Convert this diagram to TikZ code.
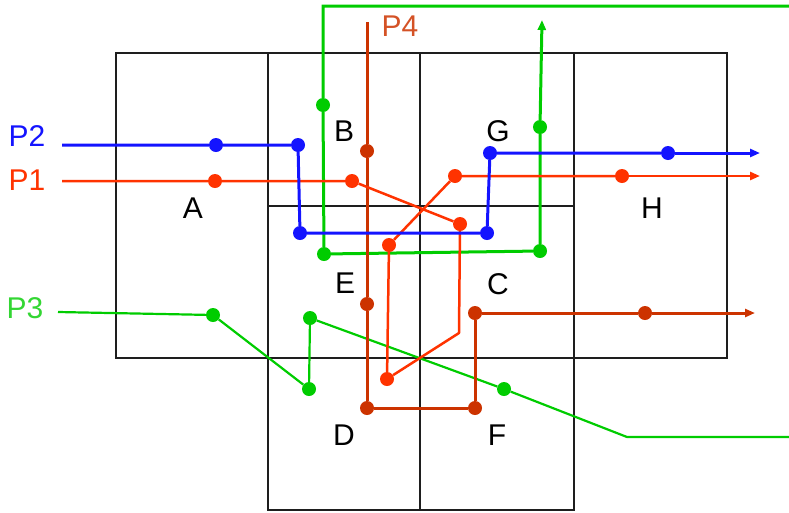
\documentclass[tikz,border=0pt]{standalone}
\usepackage{fontspec}
\setmainfont{Liberation Sans}
\usetikzlibrary{arrows.meta}
\definecolor{pblue}{RGB}{20,20,255}
\definecolor{pred}{RGB}{255,51,0}
\definecolor{pdark}{RGB}{204,51,0}
\definecolor{pgreen}{RGB}{0,204,0}
\definecolor{gridc}{RGB}{30,30,30}
\begin{document}
\begin{tikzpicture}[x=1pt,y=-1pt,
  cell/.style={draw=gridc,line width=1.5pt},
  lbl/.style={inner sep=0pt,font=\fontsize{30}{30}\selectfont},
  dot/.style={circle,fill=#1,inner sep=0pt,minimum size=14pt},
  tipend/.style={-{Triangle[length=10pt,width=8pt]}},
  bluepath/.style={draw=pblue,line width=3pt},
  redpath/.style={draw=pred,line width=2.5pt,line join=round},
  darkpath/.style={draw=pdark,line width=3pt},
  greenpath/.style={draw=pgreen,line width=3pt},
  thingreen/.style={draw=pgreen,line width=2.2pt,line join=round},
]
\useasboundingbox (0,0) rectangle (789,512);
% grid
\draw[cell] (116,53) rectangle (268,358);
\draw[cell] (268,53) rectangle (420,206);
\draw[cell] (420,53) rectangle (574,206);
\draw[cell] (268,206) rectangle (420,358);
\draw[cell] (420,206) rectangle (574,358);
\draw[cell] (268,358) rectangle (420,510);
\draw[cell] (420,358) rectangle (574,510);
\draw[cell] (574,53) rectangle (727,358);
% cell labels
\node[lbl] (lA) at (193,208) {A};
\node[lbl] (lB) at (344,131) {B};
\node[lbl] (lG) at (498,131) {G};
\node[lbl] (lH) at (652,208) {H};
\node[lbl] (lE) at (345,283) {E};
\node[lbl] (lC) at (498,284) {C};
\node[lbl] (lD) at (344,435) {D};
\node[lbl] (lF) at (497,435) {F};
% path labels
\node[lbl,text=pblue] (lP2) at (27,136) {P2};
\node[lbl,text=pred] (lP1) at (27,180) {P1};
\node[lbl,text=pgreen!80!white] (lP3) at (25,308) {P3};
\node[lbl,text=pdark!85!white] (lP4) at (400,26) {P4};

% green thick path
\coordinate (g0) at (792,6);
\coordinate (g1) at (323,6);
\node[dot=pgreen] (g2) at (323,105) {};
\node[dot=pgreen] (g3) at (324,254) {};
\node[dot=pgreen] (g4) at (540,251) {};
\node[dot=pgreen] (g5) at (540,127) {};
\coordinate (g6) at (542,20);
\draw[greenpath] (g0) -- (g1) -- (g2) -- (g3) -- (g4) -- (g5);
\draw[greenpath,tipend] (g5) -- (g6);

% P3 thin green
\coordinate (t0) at (58,312);
\node[dot=pgreen] (t1) at (213,315) {};
\node[dot=pgreen] (t2) at (309,389) {};
\node[dot=pgreen] (t3) at (310,318) {};
\node[dot=pgreen] (t4) at (504,389) {};
\coordinate (t5) at (627,437);
\coordinate (t6) at (792,437);
\draw[thingreen] (t0) -- (t1) -- (t2) -- (t3) -- (t4) -- (t5) -- (t6);

% P4
\coordinate (p0) at (367,22);
\node[dot=pdark] (p1) at (367,151) {};
\node[dot=pdark] (p2) at (367,304) {};
\node[dot=pdark] (p3) at (367,408) {};
\node[dot=pdark] (p4) at (475,408) {};
\node[dot=pdark] (p5) at (475,313) {};
\node[dot=pdark] (p6) at (645,313) {};
\coordinate (p7) at (755,313);
\draw[darkpath] (p0) -- (p1) -- (p2) -- (p3) -- (p4) -- (p5) -- (p6);
\draw[darkpath,tipend] (p6) -- (p7);

% P1
\coordinate (r0) at (62,181);
\node[dot=pred] (r1) at (215,181) {};
\node[dot=pred] (r2) at (352,181) {};
\node[dot=pred] (r3) at (460,224) {};
\coordinate (r4) at (459,333);
\node[dot=pred] (r5) at (387,379) {};
\node[dot=pred] (r6) at (389,245) {};
\node[dot=pred] (r7) at (455,176) {};
\node[dot=pred] (r8) at (622,176) {};
\coordinate (r9) at (760,176);
\draw[redpath] (r0) -- (r1) -- (r2) -- (r3) -- (r4) -- (r5) -- (r6) -- (r7) -- (r8);
\draw[redpath,tipend] (r8) -- (r9);

% P2
\coordinate (b0) at (62,145);
\node[dot=pblue] (b1) at (216,145) {};
\node[dot=pblue] (b2) at (298,145) {};
\node[dot=pblue] (b3) at (300,233) {};
\node[dot=pblue] (b4) at (487,233) {};
\node[dot=pblue] (b5) at (490,153) {};
\node[dot=pblue] (b6) at (668,153) {};
\coordinate (b7) at (760,153);
\draw[bluepath] (b0) -- (b1) -- (b2) -- (b3) -- (b4) -- (b5) -- (b6);
\draw[bluepath,tipend] (b6) -- (b7);
\end{tikzpicture}
\end{document}
